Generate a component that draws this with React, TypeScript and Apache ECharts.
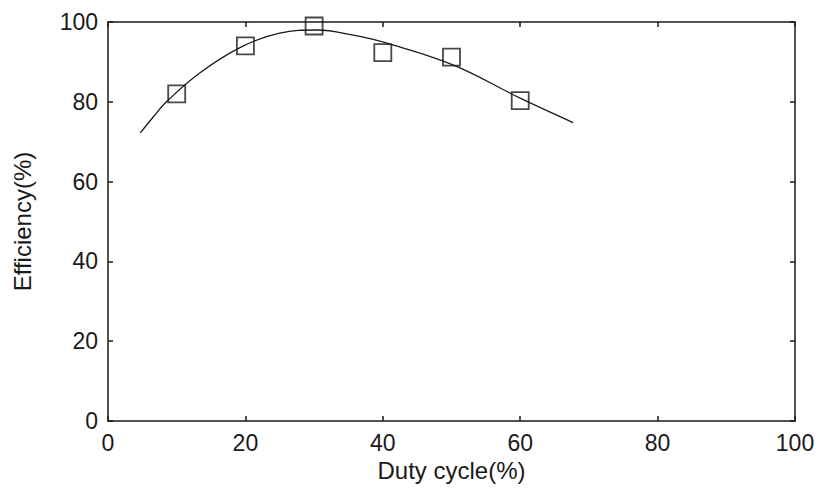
import React, { useEffect, useRef } from "react";
import * as echarts from "echarts";

const measuredDuty = [10, 20, 30, 40, 50, 60];
const measuredEff = [82, 94, 99, 92.3, 91.2, 80.3];

const fitDuty = [4.7, 6.5, 8.5, 13.4, 19.7, 25.0, 30.4, 35.7, 40.6, 50.3, 60.0, 67.7];
const fitEff = [72.2, 76.0, 80.0, 87.3, 94.0, 97.2, 98.0, 96.7, 94.7, 89.2, 80.9, 74.8];

const xTicks = [0, 20, 40, 60, 80, 100];
const yTicks = [0, 20, 40, 60, 80, 100];

const FONT = "'Liberation Sans', Arial, sans-serif";
const INK = "#1a1a1a";

export default function App() {
  const ref = useRef<HTMLDivElement>(null);
  useEffect(() => {
    if (!ref.current) return;
    const chart = echarts.init(ref.current, null, { renderer: "svg" });
    const axisCommon = {
      type: "value" as const,
      min: xTicks[0],
      max: xTicks[xTicks.length - 1],
      interval: 20,
      splitLine: { show: false },
      axisLine: { show: true, onZero: false, lineStyle: { color: INK, width: 1.5 } },
      axisTick: { show: true, inside: true, length: 5, lineStyle: { color: INK, width: 1.5 } },
    };
    chart.setOption({
      animation: false,
      backgroundColor: "#ffffff",
      grid: { left: 108, right: 25, top: 22, bottom: 67, containLabel: false },
      xAxis: [
        {
          ...axisCommon,
          position: "bottom",
          name: "Duty cycle(%)",
          nameLocation: "middle",
          nameGap: 35,
          nameTextStyle: { fontFamily: FONT, fontSize: 24, color: INK },
          axisLabel: { fontFamily: FONT, fontSize: 23, color: INK, margin: 10 },
        },
        {
          ...axisCommon,
          position: "top",
          axisLabel: { show: false },
        },
      ],
      yAxis: [
        {
          ...axisCommon,
          min: yTicks[0],
          max: yTicks[yTicks.length - 1],
          position: "left",
          name: "Efficiency(%)",
          nameLocation: "middle",
          nameGap: 74,
          nameTextStyle: { fontFamily: FONT, fontSize: 24, color: INK },
          axisLabel: { fontFamily: FONT, fontSize: 23, color: INK, margin: 10 },
        },
        {
          ...axisCommon,
          min: yTicks[0],
          max: yTicks[yTicks.length - 1],
          position: "right",
          axisLabel: { show: false },
        },
      ],
      series: [
        {
          type: "line",
          data: fitDuty.map((x, i) => [x, fitEff[i]]),
          smooth: 0.4,
          showSymbol: false,
          symbol: "none",
          lineStyle: { color: INK, width: 1.3 },
          z: 2,
        },
        {
          type: "scatter",
          data: measuredDuty.map((x, i) => [x, measuredEff[i]]),
          symbol: "rect",
          symbolSize: 17,
          itemStyle: { color: "rgba(0,0,0,0)", borderColor: INK, borderWidth: 1.8 },
          z: 3,
        },
      ],
    });
    return () => chart.dispose();
  }, []);
  return <div ref={ref} style={{ width: 820, height: 488, position: "fixed", left: 0, top: 0 }} />;
}
